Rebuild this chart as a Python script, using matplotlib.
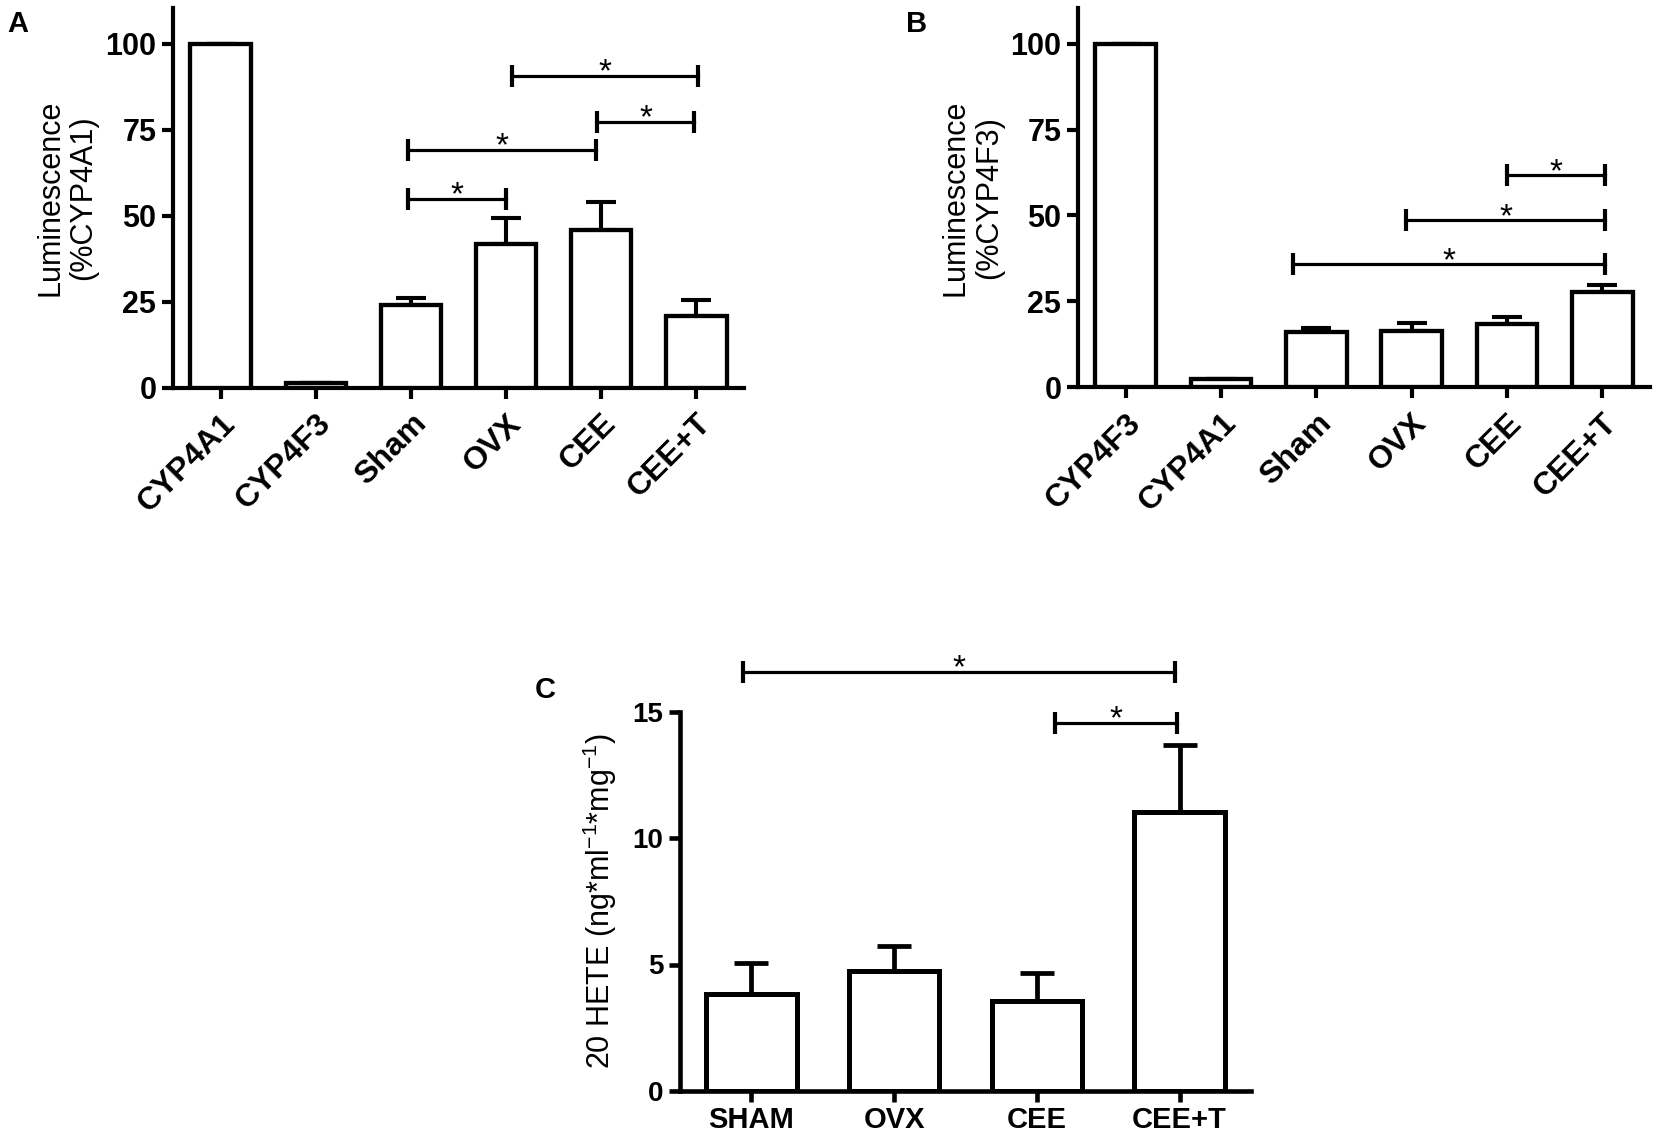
import matplotlib
matplotlib.use('Agg')
import matplotlib.pyplot as plt
import numpy as np

plt.rcParams['font.family'] = ['Liberation Sans', 'DejaVu Sans']
plt.rcParams['mathtext.fontset'] = 'custom'
plt.rcParams['mathtext.rm'] = 'Liberation Sans'

# panel A: luminescence relative to CYP4A1
a_labels = ['CYP4A1', 'CYP4F3', 'Sham', 'OVX', 'CEE', 'CEE+T']
a_means = [100, 1.3, 24.0, 41.8, 45.8, 20.8]
a_err = [0, 0, 2.2, 7.4, 8.3, 4.7]
a_sig = [(3.06, 5.02, 90.6), (3.96, 4.97, 77.3), (1.97, 3.94, 69.1), (1.97, 3.0, 54.8)]

# panel B: luminescence relative to CYP4F3
b_labels = ['CYP4F3', 'CYP4A1', 'Sham', 'OVX', 'CEE', 'CEE+T']
b_means = [100, 2.3, 16.0, 16.3, 18.3, 27.6]
b_err = [0, 0, 1.4, 2.3, 2.2, 2.3]
b_sig = [(4.0, 5.03, 61.7), (2.94, 5.03, 48.6), (1.76, 5.03, 35.8)]

# panel C: 20 HETE
c_labels = ['SHAM', 'OVX', 'CEE', 'CEE+T']
c_means = [3.85, 4.74, 3.56, 11.03]
c_err = [1.2, 1.0, 1.1, 2.65]
c_sig = [(-0.06, 2.97, 16.57), (2.13, 2.98, 14.56)]

W, H = 1660, 1141
fig = plt.figure(figsize=(W / 100, H / 100), dpi=100)


def px_axes(left, top, right, bottom):
    return fig.add_axes([left / W, 1 - bottom / H, (right - left) / W, (bottom - top) / H])


def style(ax, lw=3.0):
    for s in ['top', 'right']:
        ax.spines[s].set_visible(False)
    for s in ['left', 'bottom']:
        ax.spines[s].set_linewidth(lw)
    ax.tick_params(direction='out', length=8, width=lw)


def draw_bars(ax, means, err, width, lw, capsize):
    x = np.arange(len(means))
    ax.errorbar(x, means, yerr=[np.zeros(len(err)), err], fmt='none', ecolor='black',
                elinewidth=lw * 0.95, capsize=capsize, capthick=lw * 0.95, zorder=2)
    ax.bar(x, means, width=width, facecolor='white', edgecolor='black', linewidth=lw, zorder=3)


def draw_sig(ax, sig, fs=24):
    for x1, x2, y in sig:
        ax.plot([x1, x2], [y, y], color='black', lw=2.3, clip_on=False, zorder=4)
        ax.plot([x1, x2], [y, y], ls='none', marker='|', ms=16, mew=3, color='black',
                clip_on=False, zorder=4)
        ax.annotate('*', xy=((x1 + x2) / 2, y), xytext=(0, -4), textcoords='offset points',
                    ha='center', va='baseline', fontsize=fs, annotation_clip=False)


# ---- A ----
axA = px_axes(173, 7.6, 744, 387.7)
style(axA)
draw_bars(axA, a_means, a_err, 0.635, 3.1, 11)
axA.set_xlim(-0.5, 5.5)
axA.set_ylim(0, 110.5)
axA.set_yticks([0, 25, 50, 75, 100])
axA.set_xticks(range(len(a_labels)))
axA.set_xticklabels(a_labels, rotation=45, ha='right', va='top', rotation_mode='anchor',
                    fontsize=23, fontweight='bold')
axA.tick_params(axis='x', pad=7)
axA.tick_params(axis='y', labelsize=22, pad=4)
for t in axA.get_yticklabels():
    t.set_fontweight('bold')
axA.text(-0.186, 0.5, 'Luminescence\n(%CYP4A1)', transform=axA.transAxes, rotation=90,
         ha='center', va='center', fontsize=22, multialignment='center', linespacing=1.15)
draw_sig(axA, a_sig)

# ---- B ----
axB = px_axes(1078, 7.6, 1650, 387.3)
style(axB)
draw_bars(axB, b_means, b_err, 0.635, 3.1, 11)
axB.set_xlim(-0.5, 5.5)
axB.set_ylim(0, 110.5)
axB.set_yticks([0, 25, 50, 75, 100])
axB.set_xticks(range(len(b_labels)))
axB.set_xticklabels(b_labels, rotation=45, ha='right', va='top', rotation_mode='anchor',
                    fontsize=23, fontweight='bold')
axB.tick_params(axis='x', pad=7)
axB.tick_params(axis='y', labelsize=22, pad=4)
for t in axB.get_yticklabels():
    t.set_fontweight('bold')
axB.text(-0.185, 0.5, 'Luminescence\n(%CYP4F3)', transform=axB.transAxes, rotation=90,
         ha='center', va='center', fontsize=22, multialignment='center', linespacing=1.15)
draw_sig(axB, b_sig)

# ---- C ----
axC = px_axes(680, 711.5, 1251, 1091)
style(axC, lw=3.3)
draw_bars(axC, c_means, c_err, 0.635, 3.6, 12.5)
axC.set_xlim(-0.5, 3.5)
axC.set_ylim(0, 15)
axC.set_yticks([0, 5, 10, 15])
axC.set_xticks(range(len(c_labels)))
axC.set_xticklabels(c_labels, fontsize=21, fontweight='bold')
axC.tick_params(axis='x', pad=3)
axC.tick_params(axis='y', labelsize=20, pad=4)
for t in axC.get_yticklabels():
    t.set_fontweight('bold')
axC.text(-0.14, 0.5, '20 HETE (ng*ml$^{-1}$*mg$^{-1}$)', transform=axC.transAxes,
         rotation=90, ha='center', va='center', fontsize=22)
draw_sig(axC, c_sig)

# panel letters
fig.text(7 / W, 1 - 32 / H, 'A', fontsize=21, fontweight='bold', va='baseline')
fig.text(906 / W, 1 - 32 / H, 'B', fontsize=21, fontweight='bold', va='baseline')
fig.text(535 / W, 1 - 698 / H, 'C', fontsize=21, fontweight='bold', va='baseline')

fig.savefig('out.png', dpi=100)
